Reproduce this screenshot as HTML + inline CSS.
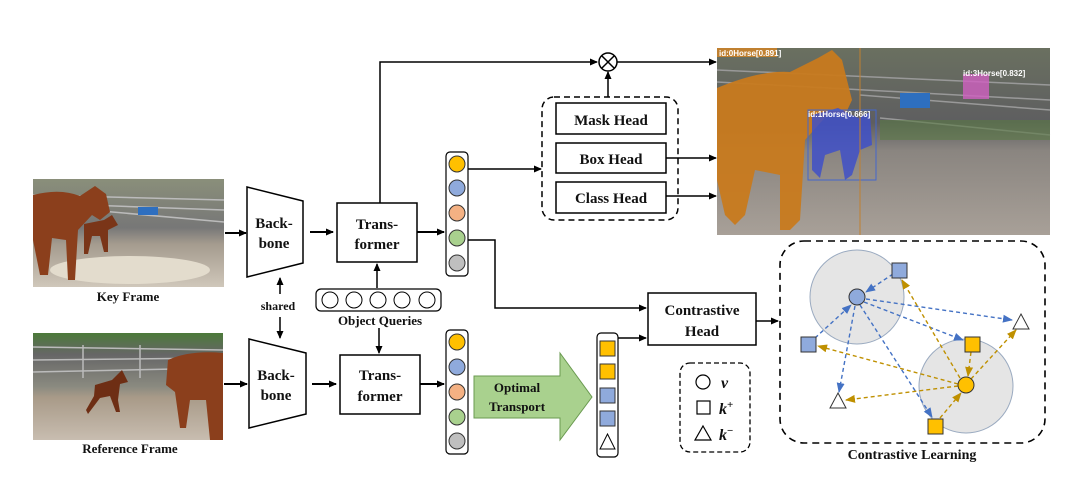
<!DOCTYPE html>
<html><head><meta charset="utf-8"><style>
html,body{margin:0;padding:0;background:#fff}
svg{display:block}
text{font-family:"Liberation Serif",serif;font-weight:bold;fill:#111}
</style></head><body>
<svg width="1080" height="495" viewBox="0 0 1080 495" xmlns="http://www.w3.org/2000/svg">
<defs>
<marker id="a" markerWidth="8" markerHeight="8" refX="7" refY="4" orient="auto" markerUnits="userSpaceOnUse"><path d="M0,0.5 L8,4 L0,7.5 Z" fill="#000"/></marker>
<marker id="ab" markerWidth="10" markerHeight="10" refX="9" refY="5" orient="auto" markerUnits="userSpaceOnUse"><path d="M0,1 L10,5 L0,9 Z" fill="#4472C4"/></marker>
<marker id="ay" markerWidth="10" markerHeight="10" refX="9" refY="5" orient="auto" markerUnits="userSpaceOnUse"><path d="M0,1 L10,5 L0,9 Z" fill="#BF9000"/></marker>
<linearGradient id="sky" x1="0" y1="0" x2="0" y2="1"><stop offset="0" stop-color="#8a8f7a"/><stop offset="0.45" stop-color="#777"/><stop offset="0.6" stop-color="#a49b8e"/><stop offset="1" stop-color="#cfc7ba"/></linearGradient>
<linearGradient id="sky2" x1="0" y1="0" x2="0" y2="1"><stop offset="0" stop-color="#4c7a3a"/><stop offset="0.2" stop-color="#666"/><stop offset="0.5" stop-color="#8a8a80"/><stop offset="0.6" stop-color="#a89a88"/><stop offset="1" stop-color="#c8bdb0"/></linearGradient>
<linearGradient id="sky3" x1="0" y1="0" x2="0" y2="1"><stop offset="0" stop-color="#6a7060"/><stop offset="0.4" stop-color="#5e5e60"/><stop offset="0.55" stop-color="#8a8580"/><stop offset="1" stop-color="#a8a098"/></linearGradient>
</defs>

<!-- Key frame -->
<rect x="33" y="179" width="191" height="108" fill="url(#sky)"/>
<g stroke="#bbb" stroke-width="1.5"><line x1="33" y1="195" x2="224" y2="200"/><line x1="33" y1="203" x2="224" y2="210"/><line x1="90" y1="210" x2="224" y2="222"/></g>
<rect x="138" y="207" width="20" height="8" fill="#2e6fbf"/>
<ellipse cx="130" cy="270" rx="80" ry="14" fill="#e3dccd"/>
<path d="M33,195 Q60,188 80,196 L95,186 L106,194 L110,212 L100,220 L92,215 L78,230 L75,280 L68,280 L66,240 L52,238 L48,275 L40,275 L33,240 Z" fill="#8b3f1c"/>
<path d="M84,224 L104,220 L112,215 L118,225 L108,230 L108,252 L104,252 L100,236 L92,236 L88,254 L84,254 Z" fill="#7a3518"/>
<text x="128" y="301" font-size="13" text-anchor="middle">Key Frame</text>

<!-- Reference frame -->
<rect x="33" y="333" width="190" height="107" fill="url(#sky2)"/>
<g stroke="#bbb" stroke-width="1.5"><line x1="33" y1="347" x2="223" y2="350"/><line x1="33" y1="360" x2="223" y2="358"/><line x1="33" y1="372" x2="223" y2="368"/><line x1="83" y1="345" x2="83" y2="378"/><line x1="140" y1="345" x2="140" y2="378"/></g>
<path d="M95,385 L112,380 L122,370 L128,382 L120,384 L118,400 L120,412 L116,412 L110,396 L100,398 L88,414 L86,410 L94,396 Z" fill="#6e2e14"/>
<path d="M168,360 Q190,350 223,353 L223,440 L210,440 L206,400 L190,400 L186,428 L180,428 L175,392 L166,385 Z" fill="#8b3f1c"/>
<text x="130" y="453" font-size="13" text-anchor="middle">Reference Frame</text>

<!-- image arrows -->
<line x1="225" y1="233" x2="246" y2="233" stroke="#000" stroke-width="2" marker-end="url(#a)"/>
<line x1="224" y1="384" x2="247" y2="384" stroke="#000" stroke-width="2" marker-end="url(#a)"/>

<!-- Backbones -->
<path d="M247,187 L303,201 L303,263 L247,277 Z" fill="#fff" stroke="#000" stroke-width="1.5"/>
<text x="274" y="228" font-size="15" text-anchor="middle">Back-</text>
<text x="274" y="248" font-size="15" text-anchor="middle">bone</text>
<path d="M249,339 L306,353 L306,414 L249,428 Z" fill="#fff" stroke="#000" stroke-width="1.5"/>
<text x="276" y="380" font-size="15" text-anchor="middle">Back-</text>
<text x="276" y="400" font-size="15" text-anchor="middle">bone</text>
<text x="278" y="310" font-size="12" text-anchor="middle">shared</text>
<line x1="280" y1="294" x2="280" y2="278" stroke="#000" stroke-width="1.5" marker-end="url(#a)"/>
<line x1="280" y1="317" x2="280" y2="338" stroke="#000" stroke-width="1.5" marker-end="url(#a)"/>

<line x1="310" y1="232" x2="333" y2="232" stroke="#000" stroke-width="2" marker-end="url(#a)"/>
<line x1="312" y1="384" x2="336" y2="384" stroke="#000" stroke-width="2" marker-end="url(#a)"/>

<!-- Transformers -->
<rect x="337" y="203" width="80" height="59" fill="#fff" stroke="#000" stroke-width="1.5"/>
<text x="377" y="229" font-size="15" text-anchor="middle">Trans-</text>
<text x="377" y="249" font-size="15" text-anchor="middle">former</text>
<rect x="340" y="355" width="80" height="59" fill="#fff" stroke="#000" stroke-width="1.5"/>
<text x="380" y="380" font-size="15" text-anchor="middle">Trans-</text>
<text x="380" y="401" font-size="15" text-anchor="middle">former</text>

<!-- Object queries -->
<rect x="316" y="289" width="125" height="22" rx="5" fill="#fff" stroke="#000" stroke-width="1.2"/>
<g fill="#fff" stroke="#000" stroke-width="1"><circle cx="330" cy="300" r="8"/><circle cx="354" cy="300" r="8"/><circle cx="378" cy="300" r="8"/><circle cx="402" cy="300" r="8"/><circle cx="427" cy="300" r="8"/></g>
<text x="380" y="325" font-size="13" text-anchor="middle">Object Queries</text>
<line x1="377" y1="288" x2="377" y2="264" stroke="#000" stroke-width="1.5" marker-end="url(#a)"/>
<line x1="379" y1="328" x2="379" y2="353" stroke="#000" stroke-width="1.5" marker-end="url(#a)"/>

<line x1="417" y1="232" x2="444" y2="232" stroke="#000" stroke-width="2" marker-end="url(#a)"/>
<line x1="420" y1="384" x2="444" y2="384" stroke="#000" stroke-width="2" marker-end="url(#a)"/>

<!-- query columns -->
<rect x="446" y="152" width="22" height="124" rx="4" fill="#fff" stroke="#000" stroke-width="1.2"/>
<g stroke="#333" stroke-width="1"><circle cx="457" cy="164" r="8" fill="#FFC000"/><circle cx="457" cy="188" r="8" fill="#8FAADC"/><circle cx="457" cy="213" r="8" fill="#F4B183"/><circle cx="457" cy="238" r="8" fill="#A9D18E"/><circle cx="457" cy="263" r="8" fill="#BFBFBF"/></g>
<rect x="446" y="330" width="22" height="124" rx="4" fill="#fff" stroke="#000" stroke-width="1.2"/>
<g stroke="#333" stroke-width="1"><circle cx="457" cy="342" r="8" fill="#FFC000"/><circle cx="457" cy="367" r="8" fill="#8FAADC"/><circle cx="457" cy="392" r="8" fill="#F4B183"/><circle cx="457" cy="417" r="8" fill="#A9D18E"/><circle cx="457" cy="441" r="8" fill="#BFBFBF"/></g>

<!-- top path -->
<polyline points="380,203 380,62 597,62" fill="none" stroke="#000" stroke-width="1.5" marker-end="url(#a)"/>
<circle cx="608" cy="62" r="9" fill="#fff" stroke="#000" stroke-width="1.5"/>
<line x1="601.6" y1="55.6" x2="614.4" y2="68.4" stroke="#000" stroke-width="1.5"/>
<line x1="614.4" y1="55.6" x2="601.6" y2="68.4" stroke="#000" stroke-width="1.5"/>
<line x1="617" y1="62" x2="716" y2="62" stroke="#000" stroke-width="1.5" marker-end="url(#a)"/>
<line x1="608" y1="97" x2="608" y2="72" stroke="#000" stroke-width="1.5" marker-end="url(#a)"/>

<!-- heads -->
<rect x="542" y="97" width="136" height="123" rx="12" fill="none" stroke="#000" stroke-width="1.5" stroke-dasharray="6,4"/>
<rect x="556" y="103" width="110" height="31" fill="#fff" stroke="#000" stroke-width="1.5"/>
<text x="611" y="125" font-size="15" text-anchor="middle">Mask Head</text>
<rect x="556" y="143" width="110" height="30" fill="#fff" stroke="#000" stroke-width="1.5"/>
<text x="611" y="164" font-size="15" text-anchor="middle">Box Head</text>
<rect x="556" y="182" width="110" height="31" fill="#fff" stroke="#000" stroke-width="1.5"/>
<text x="611" y="203" font-size="15" text-anchor="middle">Class Head</text>
<line x1="468" y1="169" x2="541" y2="169" stroke="#000" stroke-width="1.5" marker-end="url(#a)"/>
<line x1="666" y1="158" x2="716" y2="158" stroke="#000" stroke-width="1.5" marker-end="url(#a)"/>
<line x1="666" y1="196" x2="716" y2="196" stroke="#000" stroke-width="1.5" marker-end="url(#a)"/>

<!-- output image -->
<rect x="717" y="48" width="333" height="187" fill="url(#sky3)"/>
<g stroke="#999" stroke-width="1.5"><line x1="717" y1="70" x2="1050" y2="85"/><line x1="717" y1="82" x2="1050" y2="100"/><line x1="860" y1="95" x2="1050" y2="110"/><line x1="880" y1="118" x2="1050" y2="135"/></g>
<rect x="900" y="93" width="30" height="15" fill="#2e6fbf"/>
<rect x="880" y="120" width="170" height="20" fill="#5a7a45" opacity="0.6"/>
<path d="M717,88 Q760,70 790,72 L818,58 L832,50 L842,60 L852,100 L845,115 L830,112 L805,140 L800,220 L790,230 L780,230 L780,175 L755,170 L745,215 L735,225 L725,215 L717,180 Z" fill="#C87A1E" opacity="0.95"/>
<path d="M812,115 L838,108 L858,118 L870,112 L872,145 L860,150 L852,175 L845,180 L840,150 L825,155 L820,178 L812,170 Z" fill="#4050c8" opacity="0.85"/>
<rect x="808" y="110" width="68" height="70" fill="none" stroke="#4466cc" stroke-width="1"/>
<rect x="963" y="74" width="26" height="25" fill="#d060c0" opacity="0.8"/>
<line x1="860" y1="48" x2="860" y2="235" stroke="#c08030" stroke-width="1"/>
<rect x="717" y="48" width="60" height="9" fill="#c08030"/>
<text x="719" y="56" font-size="8" font-family="Liberation Sans" font-weight="normal" fill="#fff" style="fill:#fff;font-family:'Liberation Sans',sans-serif">id:0Horse[0.891]</text>
<text x="808" y="117" font-size="8" style="fill:#fff;font-family:'Liberation Sans',sans-serif">id:1Horse[0.666]</text>
<text x="963" y="76" font-size="8" style="fill:#fff;font-family:'Liberation Sans',sans-serif">id:3Horse[0.832]</text>

<!-- contrastive path -->
<polyline points="468,240 495,240 495,308 646,308" fill="none" stroke="#000" stroke-width="1.5" marker-end="url(#a)"/>
<rect x="648" y="293" width="108" height="52" fill="#fff" stroke="#000" stroke-width="1.5"/>
<text x="702" y="315" font-size="15" text-anchor="middle">Contrastive</text>
<text x="702" y="336" font-size="15" text-anchor="middle">Head</text>
<line x1="756" y1="321" x2="778" y2="321" stroke="#000" stroke-width="1.5" marker-end="url(#a)"/>

<!-- Optimal transport arrow -->
<path d="M474,376 L560,376 L560,353 L592,397 L560,440 L560,418 L474,418 Z" fill="#A9D18E" stroke="#6a9a50" stroke-width="1"/>
<text x="517" y="392" font-size="13" text-anchor="middle">Optimal</text>
<text x="517" y="411" font-size="13" text-anchor="middle">Transport</text>

<!-- square column -->
<rect x="597" y="333" width="21" height="124" rx="4" fill="#fff" stroke="#000" stroke-width="1.2"/>
<g stroke="#333" stroke-width="1"><rect x="600" y="341" width="15" height="15" fill="#FFC000"/><rect x="600" y="364" width="15" height="15" fill="#FFC000"/><rect x="600" y="388" width="15" height="15" fill="#8FAADC"/><rect x="600" y="411" width="15" height="15" fill="#8FAADC"/></g>
<path d="M607.5,434 L615,449 L600,449 Z" fill="#fff" stroke="#000" stroke-width="1"/>
<line x1="618" y1="338" x2="646" y2="338" stroke="#000" stroke-width="1.5" marker-end="url(#a)"/>

<!-- legend -->
<rect x="680" y="363" width="70" height="89" rx="10" fill="none" stroke="#000" stroke-width="1.3" stroke-dasharray="5,3"/>
<circle cx="703" cy="382" r="7" fill="#fff" stroke="#000" stroke-width="1.2"/>
<text x="721" y="388" font-size="16" font-style="italic">v</text>
<rect x="697" y="401" width="13" height="13" fill="#fff" stroke="#000" stroke-width="1.2"/>
<text x="719" y="414" font-size="16" font-style="italic">k<tspan font-size="11" dy="-6" font-style="normal">+</tspan></text>
<path d="M703,426 L711,440 L695,440 Z" fill="#fff" stroke="#000" stroke-width="1.2"/>
<text x="719" y="440" font-size="16" font-style="italic">k<tspan font-size="11" dy="-6" font-style="normal">−</tspan></text>

<!-- contrastive learning -->
<rect x="780" y="241" width="265" height="202" rx="24" fill="none" stroke="#000" stroke-width="1.6" stroke-dasharray="7,5"/>
<text x="912" y="459" font-size="14" text-anchor="middle">Contrastive Learning</text>
<circle cx="857" cy="297" r="47" fill="#E5E5E5" stroke="#9aaac0" stroke-width="1"/>
<circle cx="966" cy="386" r="47" fill="#E5E5E5" stroke="#9aaac0" stroke-width="1"/>
<g fill="none" stroke-width="1.4" stroke-dasharray="4,3">
<g stroke="#4472C4">
<line x1="893" y1="274" x2="866" y2="292" marker-end="url(#ab)"/>
<line x1="815" y1="338" x2="851" y2="305" marker-end="url(#ab)"/>
<line x1="866" y1="299" x2="1012" y2="320" marker-end="url(#ab)"/>
<line x1="864" y1="302" x2="963" y2="340" marker-end="url(#ab)"/>
<line x1="860" y1="305" x2="932" y2="417" marker-end="url(#ab)"/>
<line x1="855" y1="306" x2="839" y2="392" marker-end="url(#ab)"/>
</g>
<g stroke="#BF9000">
<line x1="960" y1="378" x2="902" y2="280" marker-end="url(#ay)"/>
<line x1="958" y1="384" x2="818" y2="346" marker-end="url(#ay)"/>
<line x1="958" y1="386" x2="846" y2="400" marker-end="url(#ay)"/>
<line x1="971" y1="379" x2="1016" y2="330" marker-end="url(#ay)"/>
<line x1="971" y1="352" x2="968" y2="376" marker-end="url(#ay)"/>
<line x1="940" y1="418" x2="961" y2="393" marker-end="url(#ay)"/>
</g>
</g>
<g stroke="#333" stroke-width="1">
<circle cx="857" cy="297" r="8" fill="#8FAADC"/>
<circle cx="966" cy="385" r="8" fill="#FFC000"/>
<rect x="892" y="263" width="15" height="15" fill="#8FAADC"/>
<rect x="801" y="337" width="15" height="15" fill="#8FAADC"/>
<rect x="965" y="337" width="15" height="15" fill="#FFC000"/>
<rect x="928" y="419" width="15" height="15" fill="#FFC000"/>
<path d="M1021,314 L1029,329 L1013,329 Z" fill="#fff"/>
<path d="M838,393 L846,408 L830,408 Z" fill="#fff"/>
</g>
</svg>
</body></html>
